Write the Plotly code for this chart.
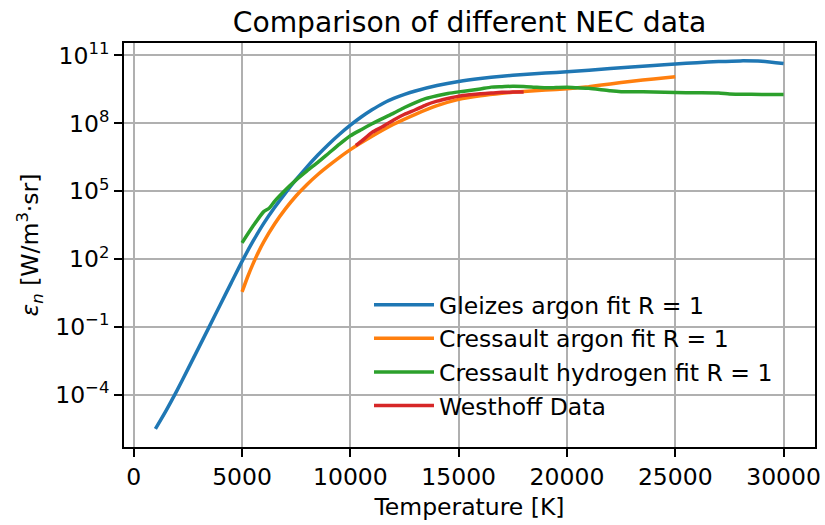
import plotly.graph_objects as go

# ---- data (log10 of emission coefficient) ----
gleizes_T = [1000, 1500, 2000, 2500, 3000, 3500, 4000, 4500, 5000, 5500, 6000, 6500,
             7000, 7500, 8000, 8500, 9000, 9500, 10000, 10500, 11000, 11500, 12000,
             12500, 13000, 14000, 15000, 16000, 17000, 18000, 19000, 20000, 22000,
             24000, 25000, 26000, 27000, 28000, 29000, 30000]
gleizes_log = [-5.5, -4.68, -3.8, -2.86, -1.91, -0.96, 0.0, 0.95, 1.9, 2.78, 3.58, 4.28,
               4.92, 5.52, 6.08, 6.6, 7.08, 7.52, 7.92, 8.28, 8.6, 8.88, 9.1,
               9.28, 9.43, 9.67, 9.85, 9.98, 10.08, 10.16, 10.22, 10.28, 10.42,
               10.56, 10.62, 10.68, 10.73, 10.76, 10.74, 10.64]

cress_ar_T = [5000, 5250, 5500, 5750, 6000, 6500, 7000, 7500, 8000, 8500, 9000, 9500,
              10000, 11000, 12000, 13000, 14000, 15000, 16000, 17000, 18000, 19000,
              20000, 21000, 22000, 23000, 24000, 25000]
cress_ar_log = [0.55, 1.2, 1.78, 2.3, 2.76, 3.55, 4.22, 4.8, 5.3, 5.74, 6.13, 6.5,
                6.84, 7.43, 7.96, 8.4, 8.78, 9.06, 9.22, 9.33, 9.41, 9.47,
                9.53, 9.62, 9.74, 9.86, 9.96, 10.06]

cress_h_T = [5000, 5500, 6000, 6250, 6500, 7000, 7500, 8000, 8500, 9000, 9500, 10000,
             10500, 11000, 11500, 12000, 12500, 13000, 13500, 14000, 14500, 15000,
             15500, 16000, 16500, 17000, 17500, 18000, 18500, 19000, 19500, 20000,
             20500, 21000, 21500, 22000, 22500, 23000, 24000, 25000, 26000, 27000,
             27500, 28000, 29000, 30000]
cress_h_log = [2.72, 3.45, 4.1, 4.25, 4.55, 5.05, 5.5, 5.9, 6.28, 6.68, 7.08, 7.45,
               7.72, 7.98, 8.22, 8.45, 8.7, 8.92, 9.1, 9.22, 9.32, 9.39,
               9.45, 9.52, 9.6, 9.62, 9.64, 9.63, 9.6, 9.57, 9.58, 9.59,
               9.57, 9.55, 9.5, 9.44, 9.4, 9.4, 9.39, 9.36, 9.35, 9.34,
               9.3, 9.29, 9.28, 9.28]

west_T = [10250, 10500, 11000, 11500, 12000, 12500, 13000, 13500, 14000, 14500, 15000,
          15500, 16000, 16500, 17000, 17500, 18000]
west_log = [7.02, 7.2, 7.6, 7.86, 8.15, 8.4, 8.6, 8.82, 8.98, 9.1, 9.2,
            9.26, 9.31, 9.34, 9.37, 9.38, 9.39]

series_names = ["Gleizes argon fit R = 1", "Cressault argon fit R = 1",
                "Cressault hydrogen fit R = 1", "Westhoff Data"]
series_colors = ["#1f77b4", "#ff7f0e", "#2ca02c", "#d62728"]

x_ticks = [0, 5000, 10000, 15000, 20000, 25000, 30000]
y_tick_exp = [-4, -1, 2, 5, 8, 11]

FONT = "DejaVu Sans"

fig = go.Figure()
for name, color, T, L in zip(series_names, series_colors,
                             [gleizes_T, cress_ar_T, cress_h_T, west_T],
                             [gleizes_log, cress_ar_log, cress_h_log, west_log]):
    fig.add_trace(go.Scatter(
        x=T, y=[10 ** v for v in L], mode="lines", name=name,
        line=dict(color=color, width=3.5, shape="spline", smoothing=0.6),
        legendgroup=name,
    ))

axis_common = dict(
    showline=True, mirror=True, linecolor="black", linewidth=1.9,
    ticks="outside", ticklen=8, tickwidth=1.9, tickcolor="black",
    showgrid=True, gridcolor="#b0b0b0", gridwidth=1.9, zeroline=False,
    automargin=False,
    tickfont=dict(family=FONT, size=23.5, color="black"),
)

fig.update_layout(
    width=825, height=525,
    margin=dict(l=124, r=10, t=43, b=78),
    paper_bgcolor="white", plot_bgcolor="white",
    font=dict(family=FONT, size=23.5, color="black"),
    title=dict(text="Comparison of different NEC data", x=0.5, xref="paper",
               xanchor="center", y=1 - 22 / 525, yref="container", yanchor="middle",
               font=dict(family=FONT, size=28.2, color="black")),
    xaxis=dict(range=[-450, 31450], tickvals=x_ticks,
               ticktext=[str(v) for v in x_ticks],
               title=dict(text="Temperature [K]", standoff=8,
                          font=dict(family=FONT, size=23.5, color="black")),
               **axis_common),
    yaxis=dict(type="log", range=[-6.3, 11.55],
               tickvals=[10 ** e for e in y_tick_exp],
               ticktext=["10<sup>%s</sup>" % (str(e).replace("-", "\u2212")) for e in y_tick_exp],
               title=dict(text="<i>ε</i><sub><i>n</i></sub> [W/m<sup>3</sup>·sr]", standoff=10,
                          font=dict(family=FONT, size=23.5, color="black")),
               **axis_common),
    legend=dict(x=(369 - 124) / 691, xanchor="left", y=(447 - 283) / 404, yanchor="top",
                bgcolor="rgba(0,0,0,0)", borderwidth=0,
                font=dict(family=FONT, size=23.5, color="black"),
                tracegroupgap=4, itemwidth=60, traceorder="normal"),
    showlegend=True,
)

fig.write_html("out.html")
